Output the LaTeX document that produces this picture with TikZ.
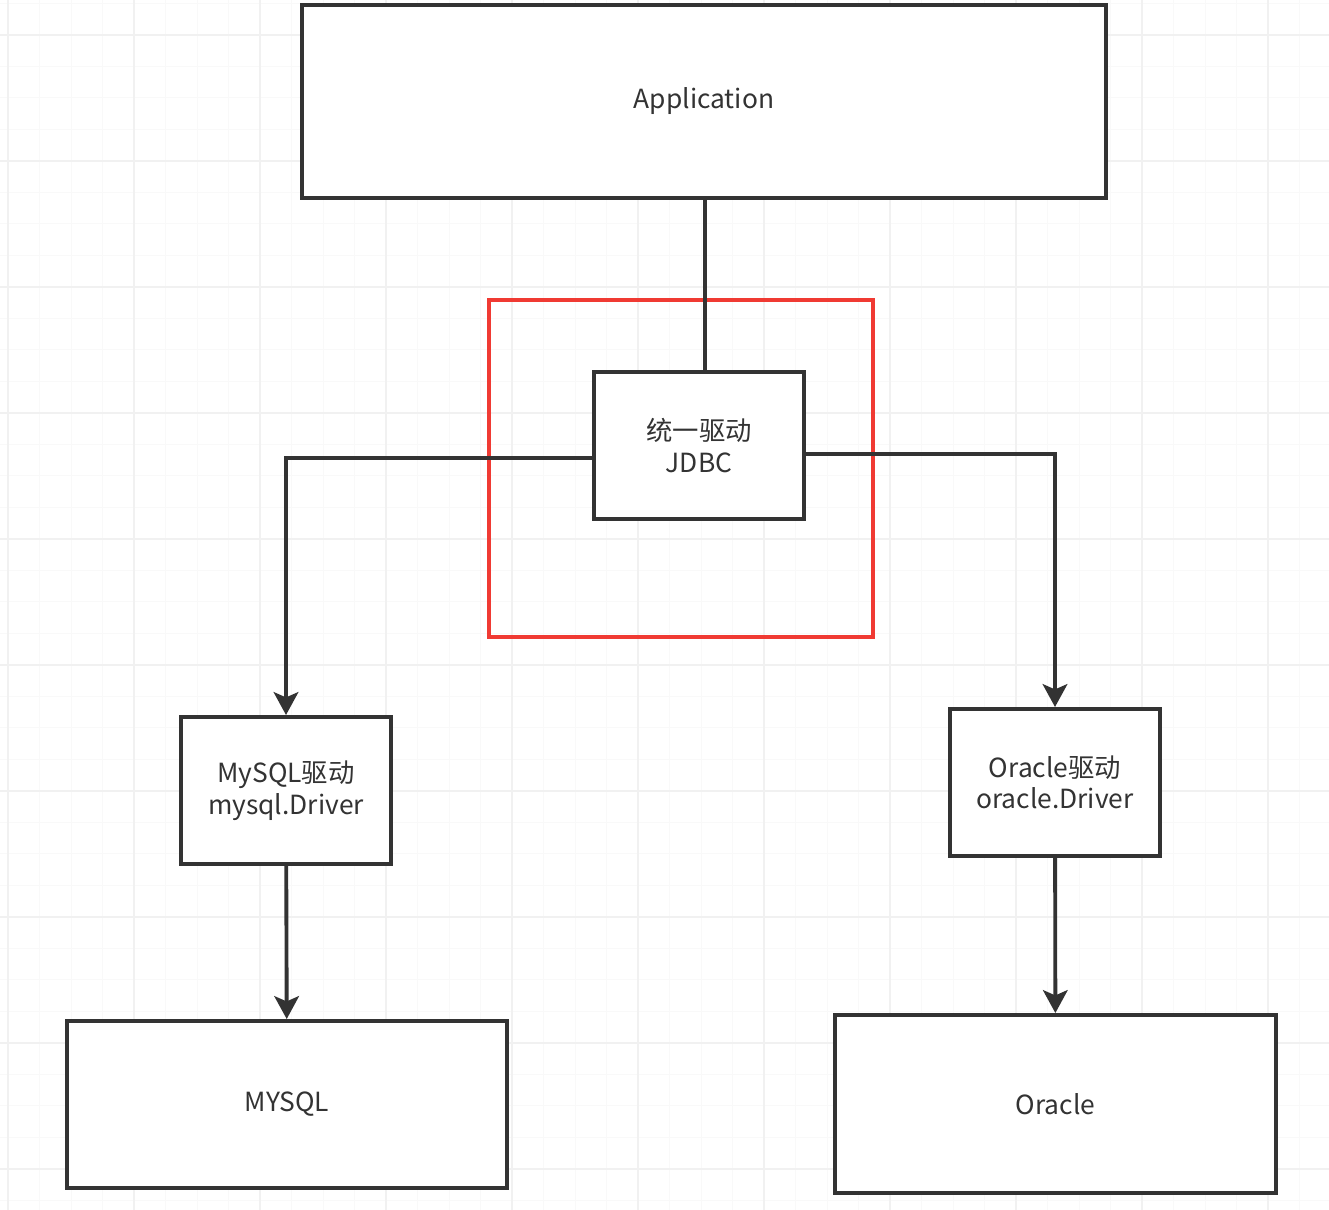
\documentclass[tikz,border=0pt]{standalone}
\usepackage{fontspec}
\setmainfont{Noto Sans CJK SC}
\usepackage{xcolor}
\usepackage{tikz}
\usetikzlibrary{arrows.meta,positioning}

\definecolor{inkgray}{HTML}{333333}
\definecolor{boxred}{HTML}{F03A33}

\tikzset{
  block/.style={draw=inkgray, line width=2.3pt, fill=white, align=center,
    text=inkgray, font=\fontsize{15}{18}\selectfont, inner sep=0pt},
  driver/.style={block, minimum width=4.2cm, minimum height=2.94cm},
  link/.style={draw=inkgray, line width=2.2pt},
  minorline/.style={draw=gray!5, line width=0.5pt},
  majorline/.style={draw=gray!11, line width=0.6pt}
}

\begin{document}
\begin{tikzpicture}[x=0.02cm, y=-0.02cm, ->, >={Stealth[length=13pt,width=14pt,inset=3pt]}]

\useasboundingbox[fill=white] (0,0) rectangle (1329,1210);

% grid
\foreach \i in {0,...,41}
  \draw[-, minorline] (8+31.5*\i,0) -- (8+31.5*\i,1210);
\foreach \j in {0,...,38}
  \draw[-, minorline] (0,3+31.5*\j) -- (1329,3+31.5*\j);
\foreach \i in {0,...,10}
  \draw[-, majorline] (8+126*\i,0) -- (8+126*\i,1210);
\foreach \j in {0,...,9}
  \draw[-, majorline] (0,35+126*\j) -- (1329,35+126*\j);

\node[block, minimum width=16.08cm, minimum height=3.86cm] (app) at (704,101.5) {Application};
\node[driver] (jdbc) at (699,445.5) {统一驱动\\JDBC};
\node[driver] (mydrv) at (286,790.5) {MySQL驱动\\mysql.Driver};
\node[driver] (ordrv) at (1055,782.5) {Oracle驱动\\oracle.Driver};
\node[block, minimum width=8.8cm, minimum height=3.34cm] (mysql) at (287,1104.5) {MYSQL};
\node[block, minimum width=8.82cm, minimum height=3.56cm] (oracle) at (1055.5,1104) {Oracle};

% highlight
\draw[-, draw=boxred, line width=1.9pt] (489,300) rectangle (873,637);

\draw[-, link] (app.south -| 705,0) -- (jdbc.north -| 705,0);
\draw[link] ([yshift=-0.25cm]jdbc.west) -| (mydrv.north);
\draw[link] ([yshift=-0.17cm]jdbc.east) -| (ordrv.north);
\draw[link] (mydrv) -- (mysql);
\draw[link] (ordrv) -- (oracle);
\end{tikzpicture}
\end{document}
